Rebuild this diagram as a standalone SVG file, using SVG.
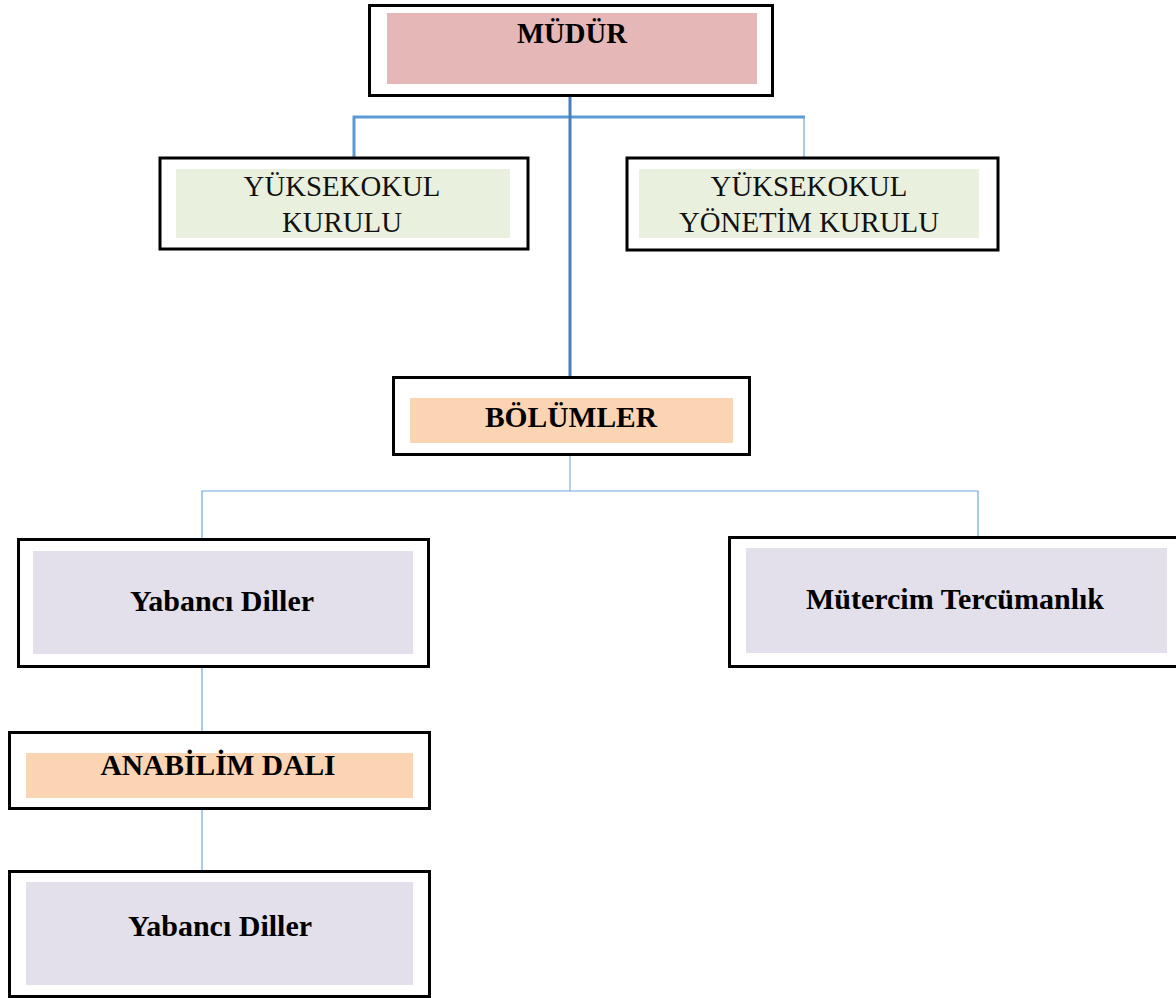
<svg xmlns="http://www.w3.org/2000/svg" width="1176" height="998" viewBox="0 0 1176 998">
<style>
.box{fill:#fff;stroke:#000;stroke-width:3}
.pink{fill:#e5b8b7}
.green{fill:#e9f0dd}
.peach{fill:#fad4b3}
.lav{fill:#e3dfeb}
.tb{font-family:"Liberation Serif","Times New Roman",serif;font-weight:bold;font-size:29.5px;fill:#000;text-anchor:middle}
.tl{font-size:30px}
.tr{font-family:"Liberation Serif","Times New Roman",serif;font-size:28.8px;fill:#111;text-anchor:middle}
.c1{fill:none;stroke:#4a7ebb;stroke-width:3}
.c2{fill:none;stroke:#5b9bd5;stroke-width:3}
.c3{fill:none;stroke:#6fa8dc;stroke-width:1.2}
.c4{fill:none;stroke:#9dc3e6;stroke-width:1.5}
</style>
<rect width="1176" height="998" fill="#fff"/>
<g id="connectors">
<path class="c2" d="M354 158 V117 H805"/>
<path class="c3" d="M804 117 V158"/>
<path class="c1" d="M570 97 V377"/>
<path class="c4" d="M570 455 V491"/>
<path class="c3" d="M202 539 V491 H978 V538"/>
<path class="c3" d="M202 668 V732"/>
<path class="c3" d="M202 810 V871"/>
</g>
<g id="mudur">
<rect class="box" x="369.5" y="5.5" width="403" height="90"/>
<rect class="pink" x="387" y="13" width="370" height="71"/>
<text class="tb" x="572" y="43" style="font-size:28.7px">MÜDÜR</text>
</g>
<g id="yuksekokul-kurulu">
<rect class="box" x="160" y="158" width="368" height="91"/>
<rect class="green" x="176" y="169" width="334" height="69"/>
<text class="tr" x="342" y="196">YÜKSEKOKUL</text>
<text class="tr" x="342" y="232">KURULU</text>
</g>
<g id="yuksekokul-yonetim-kurulu">
<rect class="box" x="627" y="158" width="371" height="92"/>
<rect class="green" x="639" y="169" width="340" height="69"/>
<text class="tr" x="809" y="196">YÜKSEKOKUL</text>
<text class="tr" x="809" y="232">YÖNETİM KURULU</text>
</g>
<g id="bolumler">
<rect class="box" x="393.5" y="377.5" width="356" height="77"/>
<rect class="peach" x="410" y="398" width="323" height="45"/>
<text class="tb" x="571" y="427">BÖLÜMLER</text>
</g>
<g id="yabanci-diller-1">
<rect class="box" x="18.5" y="539.5" width="410" height="127"/>
<rect class="lav" x="33" y="551" width="380" height="103"/>
<text class="tb tl" x="222" y="611">Yabancı Diller</text>
</g>
<g id="mutercim">
<rect class="box" x="729.5" y="537.5" width="460" height="129"/>
<rect class="lav" x="746" y="548" width="421" height="105"/>
<text class="tb tl" x="955" y="609">Mütercim Tercümanlık</text>
</g>
<g id="anabilim-dali">
<rect class="box" x="9.5" y="732.5" width="420" height="76"/>
<rect class="peach" x="26" y="753" width="387" height="45"/>
<text class="tb" x="218" y="775">ANABİLİM DALI</text>
</g>
<g id="yabanci-diller-2">
<rect class="box" x="9.5" y="871.5" width="420" height="125"/>
<rect class="lav" x="26" y="882" width="387" height="103"/>
<text class="tb tl" x="220" y="936">Yabancı Diller</text>
</g>
</svg>
